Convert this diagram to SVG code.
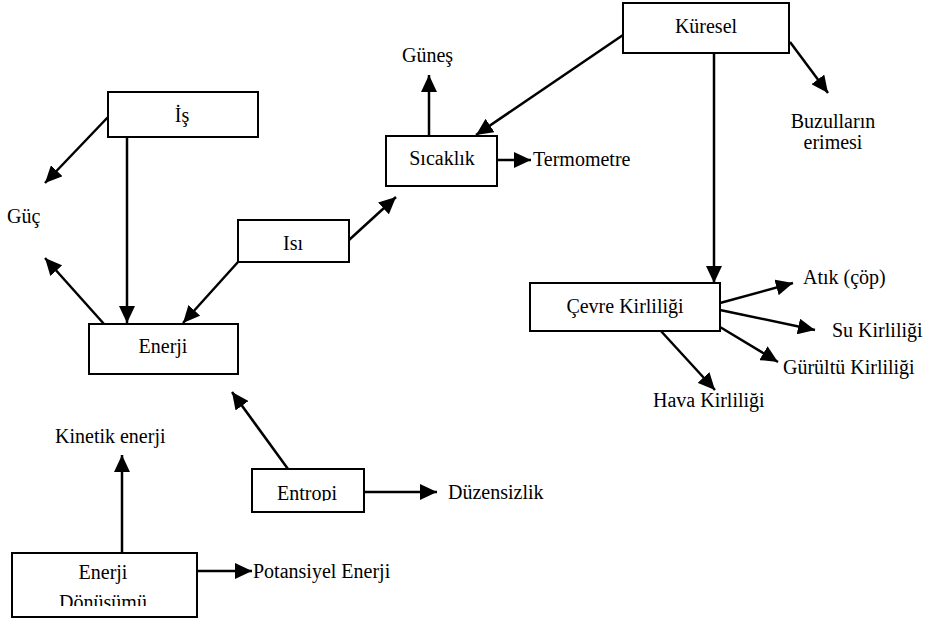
<svg xmlns="http://www.w3.org/2000/svg" width="935" height="620" viewBox="0 0 935 620">
  <style>
    .box { fill: #fff; stroke: #000; stroke-width: 2; }
    .c { text-anchor: middle; }
    .edge { stroke: #000; stroke-width: 2.5; fill: none; marker-end: url(#arrow); }
  </style>
  <defs>
    <marker id="arrow" markerUnits="userSpaceOnUse" markerWidth="18" markerHeight="16" refX="17" refY="8" orient="auto">
      <path d="M0,0 L17,8 L0,16 z" fill="#000"/>
    </marker>
    <clipPath id="clip-donusum"><rect x="12" y="553" width="185" height="53"/></clipPath>
    <clipPath id="clip-entropi"><rect x="252" y="469" width="112" height="32"/></clipPath>
  </defs>
  <rect width="935" height="620" fill="#fff"/>

  <!-- connectors -->
  <g id="connectors">
    <line class="edge" x1="109" y1="116" x2="45" y2="183"/>
    <line class="edge" x1="127" y1="137" x2="127" y2="323"/>
    <line class="edge" x1="104" y1="324" x2="45" y2="258"/>
    <line class="edge" x1="238" y1="262" x2="183" y2="323"/>
    <line class="edge" x1="349" y1="240" x2="396" y2="197"/>
    <line class="edge" x1="429" y1="136" x2="429" y2="75"/>
    <line class="edge" x1="497" y1="160" x2="531" y2="160"/>
    <line class="edge" x1="623" y1="35" x2="476" y2="135"/>
    <line class="edge" x1="790" y1="42" x2="828" y2="93"/>
    <line class="edge" x1="714" y1="53" x2="714" y2="283"/>
    <line class="edge" x1="720" y1="303" x2="793" y2="283"/>
    <line class="edge" x1="720" y1="310" x2="815" y2="330"/>
    <line class="edge" x1="720" y1="327" x2="778" y2="362"/>
    <line class="edge" x1="660" y1="330" x2="715" y2="390"/>
    <line class="edge" x1="288" y1="469" x2="232" y2="392"/>
    <line class="edge" x1="364" y1="492" x2="437" y2="492"/>
    <line class="edge" x1="122" y1="553" x2="122" y2="455"/>
    <line class="edge" x1="197" y1="571" x2="252" y2="571"/>
  </g>

  <g font-family="Liberation Serif, DejaVu Serif, serif" font-size="20" fill="#000">
    <!-- boxed nodes -->
    <g id="kuresel">
      <rect class="box" x="623" y="3" width="166" height="50"/>
      <text class="c" x="706" y="33">Küresel</text>
    </g>
    <g id="is">
      <rect class="box" x="108" y="92" width="150" height="45"/>
      <text class="c" x="182" y="122">İş</text>
    </g>
    <g id="sicaklik">
      <rect class="box" x="386" y="136" width="111" height="50"/>
      <text class="c" x="442" y="165">Sıcaklık</text>
    </g>
    <g id="isi">
      <rect class="box" x="238" y="220" width="111" height="42"/>
      <text class="c" x="293" y="250">Isı</text>
    </g>
    <g id="enerji">
      <rect class="box" x="89" y="324" width="149" height="50"/>
      <text class="c" x="163" y="353">Enerji</text>
    </g>
    <g id="cevre-kirliligi">
      <rect class="box" x="530" y="283" width="190" height="48"/>
      <text class="c" x="625" y="313">Çevre Kirliliği</text>
    </g>
    <g id="entropi">
      <rect class="box" x="252" y="469" width="112" height="43"/>
      <text class="c" x="307" y="500" clip-path="url(#clip-entropi)">Entropi</text>
    </g>
    <g id="enerji-donusumu">
      <rect class="box" x="12" y="553" width="185" height="64"/>
      <text class="c" x="103" y="579">Enerji</text>
      <text class="c" x="103" y="609" clip-path="url(#clip-donusum)">Dönüşümü</text>
    </g>

    <!-- plain labels -->
    <g id="guc"><text x="7" y="223">Güç</text></g>
    <g id="gunes"><text x="402" y="62">Güneş</text></g>
    <g id="termometre"><text x="533" y="166">Termometre</text></g>
    <g id="buzullar">
      <text class="c" x="833" y="128">Buzulların</text>
      <text class="c" x="833" y="149">erimesi</text>
    </g>
    <g id="atik"><text x="803" y="284">Atık (çöp)</text></g>
    <g id="su-kirliligi"><text x="832" y="337">Su Kirliliği</text></g>
    <g id="gurultu-kirliligi"><text x="783" y="374">Gürültü Kirliliği</text></g>
    <g id="hava-kirliligi"><text x="653" y="407">Hava Kirliliği</text></g>
    <g id="kinetik-enerji"><text x="55" y="443">Kinetik enerji</text></g>
    <g id="duzensizlik"><text x="448" y="499">Düzensizlik</text></g>
    <g id="potansiyel-enerji"><text x="253" y="578">Potansiyel Enerji</text></g>
  </g>
</svg>
